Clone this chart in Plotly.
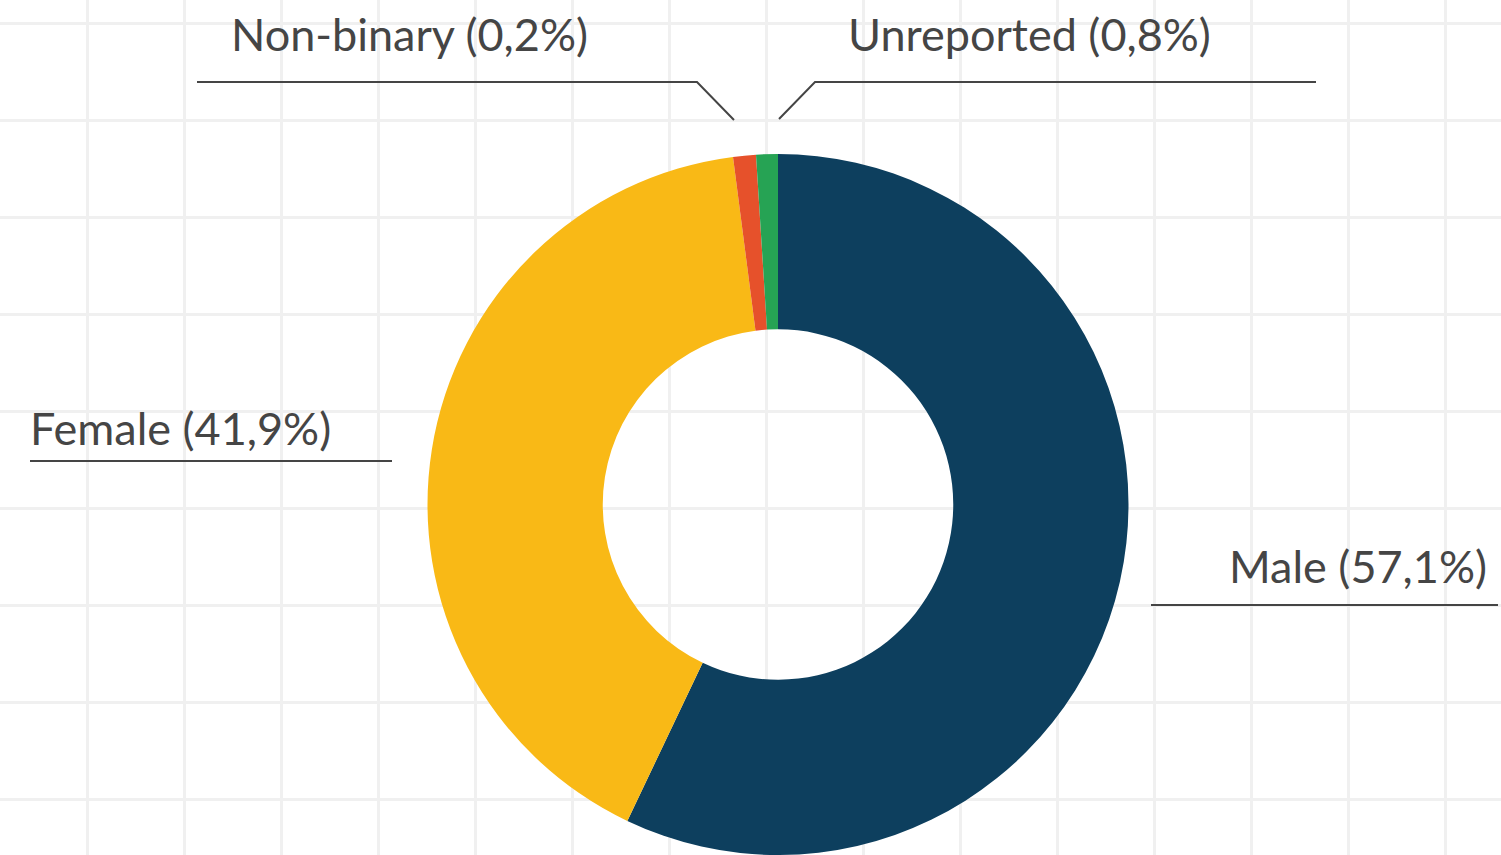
import plotly.graph_objects as go

# ---- data ----
categories = ["Male", "Female", "Non-binary", "Unreported"]
reported_pct = [57.1, 41.9, 0.2, 0.8]          # values printed in the labels
drawn_share = [57.1, 40.9, 1.05, 1.0]          # slice sizes as drawn in the picture
colors = ["#0d3f5e", "#f9b916", "#e6512b", "#26a354"]

label_text = [f"{c} ({str(p).replace('.', ',')}%)" for c, p in zip(categories, reported_pct)]

W, H = 1501, 855
TEXT = "#454545"
FONT = "Lato"
FSIZE = 45

fig = go.Figure()

# invisible cartesian trace so the graph-paper grid is drawn
fig.add_trace(go.Scatter(x=[], y=[], hoverinfo="skip", showlegend=False))

fig.add_trace(go.Pie(
    labels=categories,
    values=drawn_share,
    sort=False,
    direction="clockwise",
    rotation=0,
    hole=0.5,
    marker=dict(colors=colors, line=dict(width=0)),
    textinfo="none",
    hoverinfo="label+percent",
    showlegend=False,
    domain=dict(x=[(778 - 351) / W, (778 + 351) / W], y=[0, 1 - 154 / H]),
))

# label positions (layout)
ann = [
    dict(x=1489, y=595, xanchor="right", text=label_text[0]),
    dict(x=28, y=457, xanchor="left", text=label_text[1]),
    dict(x=229, y=63, xanchor="left", text=label_text[2]),
    dict(x=846, y=63, xanchor="left", text=label_text[3]),
]
annotations = []
for a in ann:
    annotations.append(dict(
        x=a["x"], y=a["y"], xref="x", yref="y", xanchor=a["xanchor"], yanchor="bottom",
        text=a["text"], showarrow=False,
        font=dict(family=FONT, size=FSIZE, color=TEXT),
    ))

line_style = dict(color=TEXT, width=2)
leaders = [
    [(1151, 605), (1498, 605)],
    [(30, 461), (392, 461)],
    [(197, 82), (697, 82), (734, 120)],
    [(779, 119), (815, 82), (1316, 82)],
]
shapes = []
for pts in leaders:
    path = "M " + " L ".join(f"{x},{y}" for x, y in pts)
    shapes.append(dict(type="path", path=path, xref="x", yref="y", line=line_style, layer="above"))

fig.update_layout(
    width=W, height=H,
    margin=dict(l=0, r=0, t=0, b=0),
    paper_bgcolor="white", plot_bgcolor="white",
    xaxis=dict(range=[0, W], tick0=87, dtick=97, showgrid=True, gridcolor="#f0f0f0", gridwidth=2.5,
               zeroline=False, showticklabels=False, ticks="", showline=False, fixedrange=True),
    yaxis=dict(range=[H, 0], tick0=23, dtick=97, showgrid=True, gridcolor="#f0f0f0", gridwidth=2.5,
               zeroline=False, showticklabels=False, ticks="", showline=False, fixedrange=True),
    annotations=annotations,
    shapes=shapes,
    showlegend=False,
)

fig.write_html(
    "out.html",
    config={"displayModeBar": False},
    post_script="document.body.style.margin='0';document.body.style.padding='0';document.body.style.overflow='hidden';",
)
